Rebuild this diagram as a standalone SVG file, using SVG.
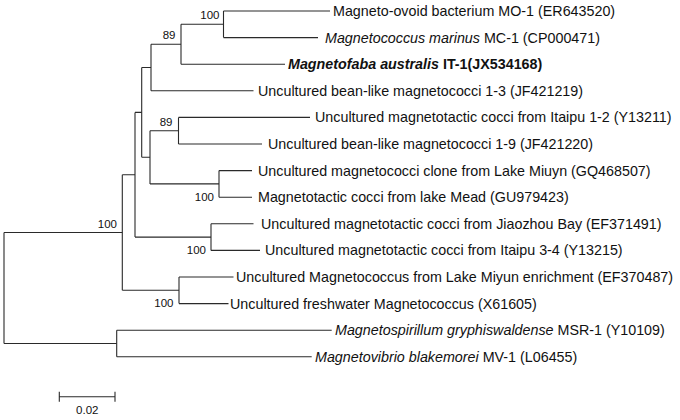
<svg xmlns="http://www.w3.org/2000/svg" width="680" height="420" viewBox="0 0 680 420">
<style>
.br{fill:none;stroke:#2a2a2a;stroke-width:1.1}
.lf{font-family:"Liberation Sans",Arial,sans-serif;font-size:14.3px;fill:#111}
.bs{font-family:"Liberation Sans",Arial,sans-serif;font-size:11.5px;fill:#111;text-anchor:end}
.it{font-style:italic}
.bd{font-weight:bold}
</style>
<rect width="680" height="420" fill="#fff"/>
<g id="connectors" class="br">
<path d="M4,232.5V343.5M4,232.5H122.3M4,343.5H116.7"/>
<path d="M122.3,174.75V290.3M122.3,174.75H135M122.3,290.3H179"/>
<path d="M135,112.4V237.1M135,112.4H141.7M135,237.1H211"/>
<path d="M141.7,67.5V157.3M141.7,67.5H151M141.7,157.3H150"/>
<path d="M151,44.25V90.8M151,44.25H181M151,90.8H253.5"/>
<path d="M181,24.3V64.2M181,24.3H223.5M181,64.2H285"/>
<path d="M223.5,11V37.6M223.5,11H330M223.5,37.6H318"/>
<path d="M150,130.7V183.9M150,130.7H178.5M150,183.9H219"/>
<path d="M178.5,117.4V144M178.5,117.4H310M178.5,144H262"/>
<path d="M219,170.6V197.2M219,170.6H252M219,197.2H252"/>
<path d="M211,223.8V250.4M211,223.8H253.5M211,250.4H260"/>
<path d="M179,277V303.6M179,277H233.5M179,303.6H228.5"/>
<path d="M116.7,330.2V356.8M116.7,330.2H331.7M116.7,356.8H311.7"/>
<path d="M59.3,396.7H115M59.3,391.7V401.7M115,391.7V401.7"/>
</g>
<g id="bootstrap">
<text class="bs" x="219.5" y="19.3">100</text>
<text class="bs" x="175.5" y="39.3">89</text>
<text class="bs" x="172.5" y="125.7">89</text>
<text class="bs" x="214" y="201">100</text>
<text class="bs" x="206" y="254">100</text>
<text class="bs" x="173.5" y="307">100</text>
<text class="bs" x="117" y="227.5">100</text>
</g>
<g id="leaf-MO1"><text class="lf" x="333" y="16">Magneto-ovoid bacterium MO-1 (ER643520)</text></g>
<g id="leaf-MC1"><text class="lf" x="325" y="42.6"><tspan class="it">Magnetococcus marinus</tspan> MC-1 (CP000471)</text></g>
<g id="leaf-IT1"><text class="lf bd" x="288" y="69.2"><tspan class="it">Magnetofaba australis</tspan> IT-1(JX534168)</text></g>
<g id="leaf-JF421219"><text class="lf" x="258" y="95.8">Uncultured bean-like magnetococci 1-3 (JF421219)</text></g>
<g id="leaf-Y13211"><text class="lf" x="315" y="122.4">Uncultured magnetotactic cocci from Itaipu 1-2 (Y13211)</text></g>
<g id="leaf-JF421220"><text class="lf" x="268" y="149">Uncultured bean-like magnetococci 1-9 (JF421220)</text></g>
<g id="leaf-GQ468507"><text class="lf" x="258" y="175.6">Uncultured magnetococci clone from Lake Miuyn (GQ468507)</text></g>
<g id="leaf-GU979423"><text class="lf" x="258" y="202.2">Magnetotactic cocci from lake Mead (GU979423)</text></g>
<g id="leaf-EF371491"><text class="lf" x="261" y="228.8">Uncultured magnetotactic cocci from Jiaozhou Bay (EF371491)</text></g>
<g id="leaf-Y13215"><text class="lf" x="265" y="255.4">Uncultured magnetotactic cocci from Itaipu 3-4 (Y13215)</text></g>
<g id="leaf-EF370487"><text class="lf" x="236" y="282">Uncultured Magnetococcus from Lake Miyun enrichment (EF370487)</text></g>
<g id="leaf-X61605"><text class="lf" x="230" y="308.6">Uncultured freshwater Magnetococcus (X61605)</text></g>
<g id="leaf-Y10109"><text class="lf" x="335" y="335.2"><tspan class="it">Magnetospirillum gryphiswaldense</tspan> MSR-1 (Y10109)</text></g>
<g id="leaf-L06455"><text class="lf" x="315" y="361.8"><tspan class="it">Magnetovibrio blakemorei</tspan> MV-1 (L06455)</text></g>
<g id="scale"><text class="bs" x="87.3" y="413.5" style="text-anchor:middle">0.02</text></g>
</svg>
